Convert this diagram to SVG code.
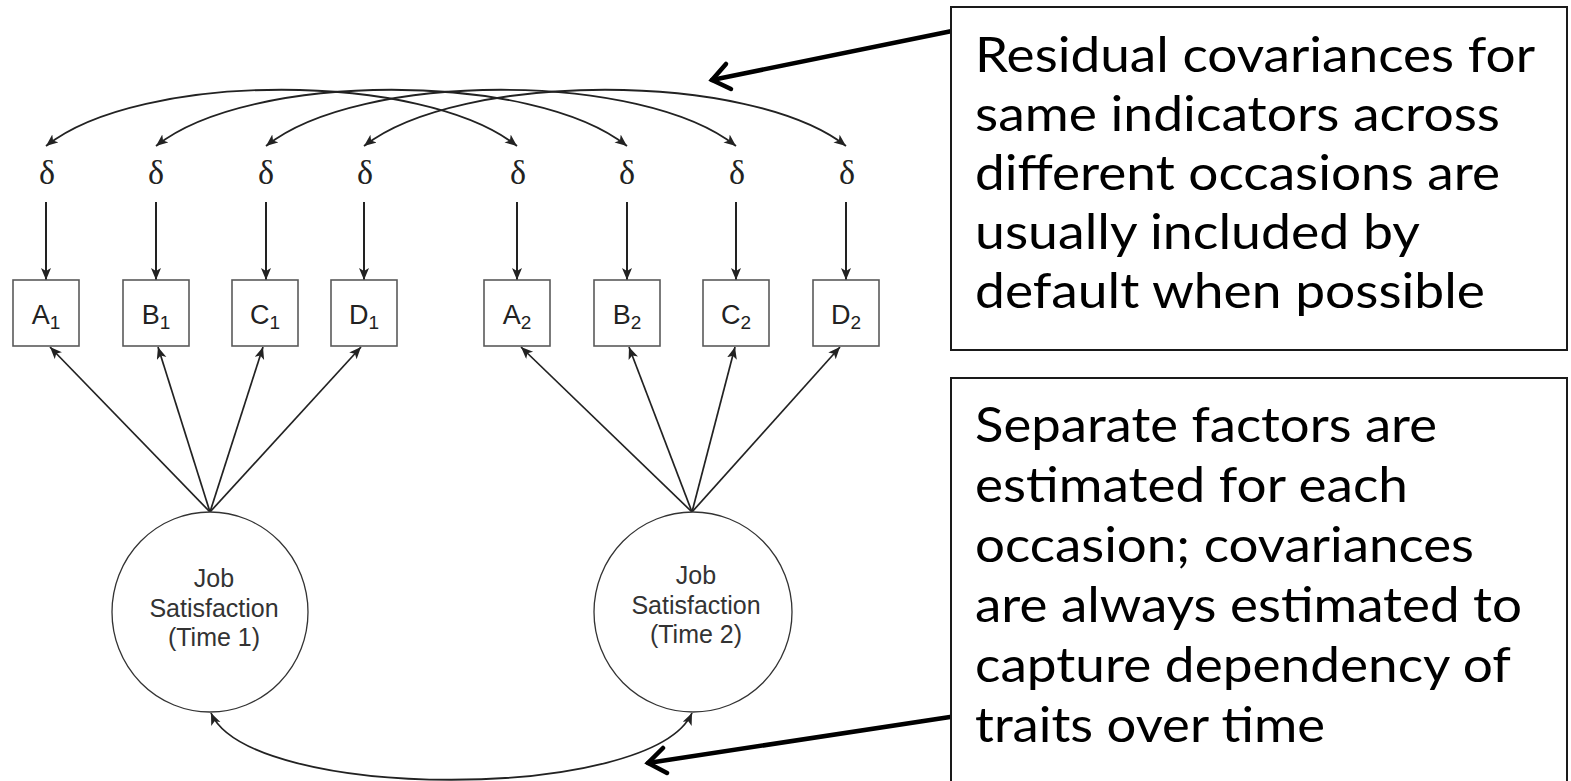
<svg xmlns="http://www.w3.org/2000/svg" width="1571" height="781" viewBox="0 0 1571 781">
<style>
.ind rect{fill:#fff;stroke:#5a5a5a;stroke-width:1.6}
.lbl{font-family:"Liberation Sans",Arial,sans-serif;font-size:27px;fill:#222;text-anchor:middle}
.sub{font-size:19px}
.delta{font-family:"Liberation Serif","Times New Roman",serif;font-size:34px;fill:#222;text-anchor:middle}
.lat ellipse{fill:#fff;stroke:#333;stroke-width:1.3}
.lat text{font-family:"Liberation Sans",Arial,sans-serif;font-size:25px;fill:#333;text-anchor:middle}
.cov{fill:none;stroke:#222;stroke-width:1.8;marker-start:url(#ah);marker-end:url(#ah)}
.one{fill:none;stroke:#222;marker-end:url(#ah)}
.call rect{fill:#fff;stroke:#1a1a1a;stroke-width:2}
.call text{font-family:Lato,"Open Sans",sans-serif;font-size:49px;fill:#000}
.thick{fill:none;stroke:#000;stroke-width:4.5;stroke-linecap:round;stroke-linejoin:miter}
</style>
<defs>
<marker id="ah" markerUnits="userSpaceOnUse" markerWidth="14" markerHeight="12" refX="12" refY="5" orient="auto-start-reverse">
<path d="M0,0 L12,5 L0,10 L3,5 z" fill="#222"/>
</marker>
</defs>
<rect x="0" y="0" width="1571" height="781" fill="#fff"/>

<g id="connectors">
<path class="cov" d="M46,146 C140,71 423,71 517,146"/>
<path class="cov" d="M156,146 C250,71 533,71 627,146"/>
<path class="cov" d="M266,146 C360,71 642,71 736,146"/>
<path class="cov" d="M364,146 C460,71 750,71 846,146"/>
<path class="one" stroke-width="2" d="M46,202 L46,280"/>
<path class="one" stroke-width="2" d="M156,202 L156,280"/>
<path class="one" stroke-width="2" d="M266,202 L266,280"/>
<path class="one" stroke-width="2" d="M364,202 L364,280"/>
<path class="one" stroke-width="2" d="M517,202 L517,280"/>
<path class="one" stroke-width="2" d="M627,202 L627,280"/>
<path class="one" stroke-width="2" d="M736,202 L736,280"/>
<path class="one" stroke-width="2" d="M846,202 L846,280"/>
<path class="one" stroke-width="1.7" d="M210,512 L50,347"/>
<path class="one" stroke-width="1.7" d="M210,512 L158,347"/>
<path class="one" stroke-width="1.7" d="M210,512 L263,347"/>
<path class="one" stroke-width="1.7" d="M210,512 L361,347"/>
<path class="one" stroke-width="1.7" d="M692,512 L521,347"/>
<path class="one" stroke-width="1.7" d="M692,512 L629,347"/>
<path class="one" stroke-width="1.7" d="M692,512 L735,347"/>
<path class="one" stroke-width="1.7" d="M692,512 L840,347"/>
<path class="cov" d="M211,713 C250,802 652,802 692,713"/>
<path class="thick" d="M952,31 L712,80"/>
<path class="thick" d="M726,64 L712,80 L731,89"/>
<path class="thick" d="M950,717 L648,763"/>
<path class="thick" d="M663,748 L648,763 L667,773"/>
</g>

<g id="deltas">
<text class="delta" x="47" y="184">δ</text>
<text class="delta" x="156" y="184">δ</text>
<text class="delta" x="266" y="184">δ</text>
<text class="delta" x="365" y="184">δ</text>
<text class="delta" x="518" y="184">δ</text>
<text class="delta" x="627" y="184">δ</text>
<text class="delta" x="737" y="184">δ</text>
<text class="delta" x="847" y="184">δ</text>
</g>

<g id="A1" class="ind"><rect x="13" y="280" width="66" height="66"/><text class="lbl" x="46" y="324">A<tspan class="sub" dy="5">1</tspan></text></g>
<g id="B1" class="ind"><rect x="123" y="280" width="66" height="66"/><text class="lbl" x="156" y="324">B<tspan class="sub" dy="5">1</tspan></text></g>
<g id="C1" class="ind"><rect x="232" y="280" width="66" height="66"/><text class="lbl" x="265" y="324">C<tspan class="sub" dy="5">1</tspan></text></g>
<g id="D1" class="ind"><rect x="331" y="280" width="66" height="66"/><text class="lbl" x="364" y="324">D<tspan class="sub" dy="5">1</tspan></text></g>
<g id="A2" class="ind"><rect x="484" y="280" width="66" height="66"/><text class="lbl" x="517" y="324">A<tspan class="sub" dy="5">2</tspan></text></g>
<g id="B2" class="ind"><rect x="594" y="280" width="66" height="66"/><text class="lbl" x="627" y="324">B<tspan class="sub" dy="5">2</tspan></text></g>
<g id="C2" class="ind"><rect x="703" y="280" width="66" height="66"/><text class="lbl" x="736" y="324">C<tspan class="sub" dy="5">2</tspan></text></g>
<g id="D2" class="ind"><rect x="813" y="280" width="66" height="66"/><text class="lbl" x="846" y="324">D<tspan class="sub" dy="5">2</tspan></text></g>

<g id="JS1" class="lat">
<ellipse cx="210" cy="612" rx="98" ry="100"/>
<text x="214" y="587">Job</text>
<text x="214" y="617">Satisfaction</text>
<text x="214" y="646">(Time 1)</text>
</g>
<g id="JS2" class="lat">
<ellipse cx="693" cy="612" rx="99" ry="100"/>
<text x="696" y="584">Job</text>
<text x="696" y="614">Satisfaction</text>
<text x="696" y="643">(Time 2)</text>
</g>

<g id="note1" class="call">
<rect x="951" y="7" width="616" height="343"/>
<text x="975" y="72" textLength="560" lengthAdjust="spacingAndGlyphs">Residual covariances for</text>
<text x="975" y="131" textLength="525" lengthAdjust="spacingAndGlyphs">same indicators across</text>
<text x="975" y="190" textLength="525" lengthAdjust="spacingAndGlyphs">different occasions are</text>
<text x="975" y="249" textLength="445" lengthAdjust="spacingAndGlyphs">usually included by</text>
<text x="975" y="308" textLength="510" lengthAdjust="spacingAndGlyphs">default when possible</text>
</g>
<g id="note2" class="call">
<rect x="951" y="378" width="616" height="420"/>
<text x="975" y="442" textLength="462" lengthAdjust="spacingAndGlyphs">Separate factors are</text>
<text x="975" y="502" textLength="433" lengthAdjust="spacingAndGlyphs">estimated for each</text>
<text x="975" y="562" textLength="499" lengthAdjust="spacingAndGlyphs">occasion; covariances</text>
<text x="975" y="622" textLength="547" lengthAdjust="spacingAndGlyphs">are always estimated to</text>
<text x="975" y="682" textLength="536" lengthAdjust="spacingAndGlyphs">capture dependency of</text>
<text x="975" y="742" textLength="350" lengthAdjust="spacingAndGlyphs">traits over time</text>
</g>
</svg>
